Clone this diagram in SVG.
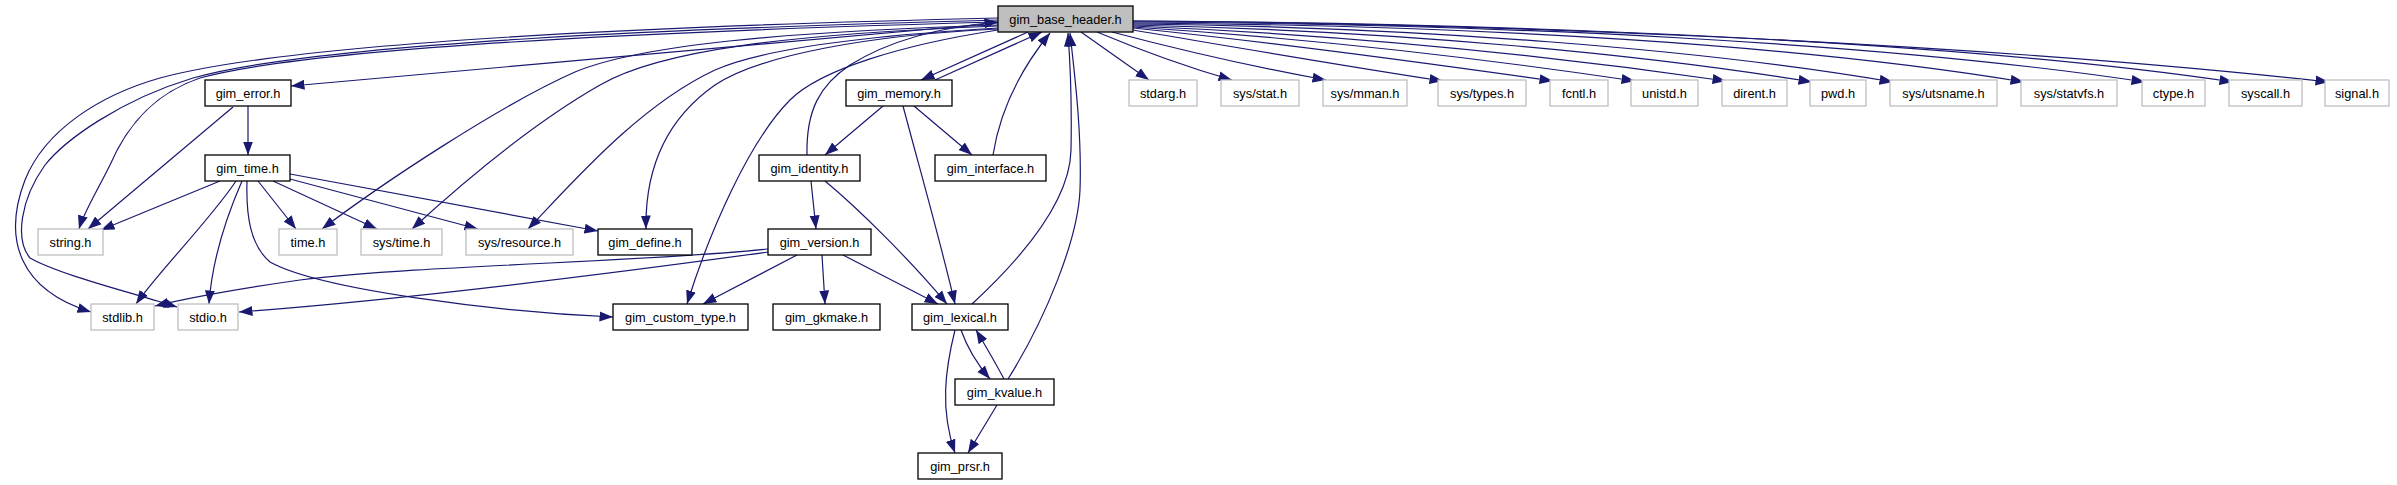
<svg xmlns="http://www.w3.org/2000/svg" width="2397" height="485" viewBox="0 0 2397 485">
<style>
.n rect{fill:#ffffff;stroke:#000000;stroke-width:1.3}
.g rect{fill:#ffffff;stroke:#bfbfbf;stroke-width:1.3}
.b rect{fill:#bfbfbf;stroke:#000000;stroke-width:1.3}
text{font-family:"Liberation Sans",Arial,sans-serif;font-size:12.8px;fill:#000000;text-anchor:middle}
#edges path{fill:none;stroke:#191970;stroke-width:1.2;marker-end:url(#ah)}
</style>
<defs>
<marker id="ah" markerUnits="userSpaceOnUse" markerWidth="14" markerHeight="11" viewBox="0 0 14 11" refX="13.5" refY="5.5" orient="auto">
<path d="M0,0.5 L13.5,5.5 L0,10.5 z" fill="#191970"/>
</marker>
</defs>
<rect x="0" y="0" width="2397" height="485" fill="#ffffff"/>
<g id="edges">
<!-- from base, left side -->
<path d="M998,23 L291,86"/>
<path d="M998,18 C700,25 300,40 160,78 C100,95 45,130 25,180 C2,240 20,290 91,312"/>
<path d="M998,20 C700,28 320,42 193,78 C120,100 65,140 45,165 C20,200 15,240 30,258 C60,275 130,292 177,307"/>
<path d="M998,22 C700,30 320,45 200,78 C150,95 125,130 110,165 C95,195 84,212 79,229"/>
<path d="M998,25 C780,32 640,45 575,72 C500,105 380,185 322,229"/>
<path d="M998,26 C790,34 660,50 600,85 C530,125 460,185 412,229"/>
<path d="M998,28 C860,36 760,50 715,70 C640,105 575,180 528,229"/>
<path d="M998,29 C870,35 760,55 715,85 C665,120 645,170 646,229"/>
<path d="M998,30 C900,45 820,70 790,100 C750,140 710,230 687,304"/>
<path d="M1028,32 L921,80"/>
<!-- back edges to base -->
<path d="M935,80 L1042,32"/>
<path d="M807,155 C806,110 820,85 850,65 C890,40 940,27 998,22"/>
<path d="M993,155 C1000,110 1020,70 1050,33"/>
<path d="M972,304 C1025,255 1070,200 1071,150 C1072,100 1070,60 1068,33"/>
<path d="M1008,379 C1045,320 1078,240 1080,190 C1082,130 1074,70 1070,33"/>
<!-- from base, right side -->
<path d="M1081,32 L1149,80"/>
<path d="M1097,32 C1140,50 1190,68 1232,80"/>
<path d="M1112,32 C1180,50 1260,68 1326,80"/>
<path d="M1133,30 C1240,48 1350,67 1443,81"/>
<path d="M1133,28 C1290,44 1440,65 1553,81"/>
<path d="M1133,27 C1320,39 1500,61 1635,81"/>
<path d="M1133,26 C1350,35 1560,57 1726,81"/>
<path d="M1133,25 C1400,31 1640,54 1812,82"/>
<path d="M1133,24 C1420,27 1700,49 1893,82"/>
<path d="M1133,23 C1480,25 1800,45 2024,82"/>
<path d="M1133,22 C1500,24 1880,42 2145,82"/>
<path d="M1133,21 C1500,23 1950,40 2233,82"/>
<path d="M1133,21 C1450,23 1950,40 2329,82"/>
<!-- gim_error -->
<path d="M248,106 L248,155"/>
<path d="M233,107 L88,229"/>
<!-- gim_time -->
<path d="M220,181 L101,230"/>
<path d="M236,181 C210,220 160,270 136,304"/>
<path d="M242,181 C225,220 212,260 209,304"/>
<path d="M247,181 C246,215 250,245 270,262 C320,290 500,312 613,317"/>
<path d="M258,181 L296,229"/>
<path d="M273,181 L377,229"/>
<path d="M290,179 L478,229"/>
<path d="M290,174 L598,231"/>
<!-- gim_memory -->
<path d="M883,106 L825,155"/>
<path d="M914,106 L972,155"/>
<path d="M903,106 C920,170 940,240 955,304"/>
<!-- gim_identity -->
<path d="M811,181 L816,229"/>
<path d="M825,181 C860,210 910,260 947,304"/>
<!-- gim_version -->
<path d="M768,249 C650,262 420,265 300,280 C230,290 180,300 155,306"/>
<path d="M768,252 C600,275 400,300 239,312"/>
<path d="M797,255 L703,304"/>
<path d="M822,255 L825,304"/>
<path d="M843,255 L938,304"/>
<!-- gim_lexical / gim_kvalue -->
<path d="M961,330 C968,350 978,365 990,379"/>
<path d="M1004,379 C995,362 985,345 976,330"/>
<path d="M955,330 C945,370 940,410 955,453"/>
<path d="M997,405 L968,453"/>
</g>
<g id="n_base" class="b"><rect x="998" y="6" width="135" height="26"/><text x="1065.5" y="23.5">gim_base_header.h</text></g>
<g id="n_gim_error" class="n"><rect x="205" y="80" width="86" height="26"/><text x="248" y="97.5">gim_error.h</text></g>
<g id="n_gim_time" class="n"><rect x="205" y="155" width="85" height="26"/><text x="247.5" y="172.5">gim_time.h</text></g>
<g id="n_string" class="g"><rect x="38" y="229" width="65" height="26"/><text x="70.5" y="246.5">string.h</text></g>
<g id="n_time" class="g"><rect x="279" y="229" width="58" height="26"/><text x="308" y="246.5">time.h</text></g>
<g id="n_sys_time" class="g"><rect x="361" y="229" width="81" height="26"/><text x="401.5" y="246.5">sys/time.h</text></g>
<g id="n_sys_resource" class="g"><rect x="466" y="229" width="107" height="26"/><text x="519.5" y="246.5">sys/resource.h</text></g>
<g id="n_gim_define" class="n"><rect x="598" y="229" width="94" height="26"/><text x="645" y="246.5">gim_define.h</text></g>
<g id="n_stdlib" class="g"><rect x="91" y="304" width="63" height="26"/><text x="122.5" y="321.5">stdlib.h</text></g>
<g id="n_stdio" class="g"><rect x="178" y="304" width="60" height="26"/><text x="208" y="321.5">stdio.h</text></g>
<g id="n_gim_custom_type" class="n"><rect x="613" y="304" width="135" height="26"/><text x="680.5" y="321.5">gim_custom_type.h</text></g>
<g id="n_gim_memory" class="n"><rect x="846" y="80" width="106" height="26"/><text x="899" y="97.5">gim_memory.h</text></g>
<g id="n_gim_identity" class="n"><rect x="759" y="155" width="101" height="26"/><text x="809.5" y="172.5">gim_identity.h</text></g>
<g id="n_gim_interface" class="n"><rect x="935" y="155" width="111" height="26"/><text x="990.5" y="172.5">gim_interface.h</text></g>
<g id="n_gim_version" class="n"><rect x="768" y="229" width="103" height="26"/><text x="819.5" y="246.5">gim_version.h</text></g>
<g id="n_gim_gkmake" class="n"><rect x="773" y="304" width="107" height="26"/><text x="826.5" y="321.5">gim_gkmake.h</text></g>
<g id="n_gim_lexical" class="n"><rect x="912" y="304" width="96" height="26"/><text x="960" y="321.5">gim_lexical.h</text></g>
<g id="n_gim_kvalue" class="n"><rect x="955" y="379" width="99" height="26"/><text x="1004.5" y="396.5">gim_kvalue.h</text></g>
<g id="n_gim_prsr" class="n"><rect x="918" y="453" width="84" height="26"/><text x="960" y="470.5">gim_prsr.h</text></g>
<g id="n_stdarg" class="g"><rect x="1129" y="80" width="68" height="26"/><text x="1163" y="97.5">stdarg.h</text></g>
<g id="n_sys_stat" class="g"><rect x="1221" y="80" width="78" height="26"/><text x="1260" y="97.5">sys/stat.h</text></g>
<g id="n_sys_mman" class="g"><rect x="1323" y="80" width="84" height="26"/><text x="1365" y="97.5">sys/mman.h</text></g>
<g id="n_sys_types" class="g"><rect x="1438" y="80" width="88" height="26"/><text x="1482" y="97.5">sys/types.h</text></g>
<g id="n_fcntl" class="g"><rect x="1550" y="80" width="58" height="26"/><text x="1579" y="97.5">fcntl.h</text></g>
<g id="n_unistd" class="g"><rect x="1631" y="80" width="67" height="26"/><text x="1664.5" y="97.5">unistd.h</text></g>
<g id="n_dirent" class="g"><rect x="1722" y="80" width="65" height="26"/><text x="1754.5" y="97.5">dirent.h</text></g>
<g id="n_pwd" class="g"><rect x="1810" y="80" width="56" height="26"/><text x="1838" y="97.5">pwd.h</text></g>
<g id="n_sys_utsname" class="g"><rect x="1890" y="80" width="107" height="26"/><text x="1943.5" y="97.5">sys/utsname.h</text></g>
<g id="n_sys_statvfs" class="g"><rect x="2021" y="80" width="96" height="26"/><text x="2069" y="97.5">sys/statvfs.h</text></g>
<g id="n_ctype" class="g"><rect x="2142" y="80" width="63" height="26"/><text x="2173.5" y="97.5">ctype.h</text></g>
<g id="n_syscall" class="g"><rect x="2229" y="80" width="73" height="26"/><text x="2265.5" y="97.5">syscall.h</text></g>
<g id="n_signal" class="g"><rect x="2325" y="80" width="64" height="26"/><text x="2357" y="97.5">signal.h</text></g>
</svg>
